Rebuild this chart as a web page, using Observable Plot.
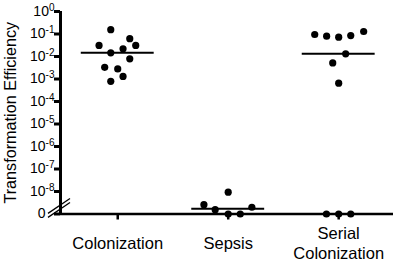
<!DOCTYPE html>
<html>
<head>
<meta charset="utf-8">
<script src="https://cdn.jsdelivr.net/npm/d3@7"></script>
<script src="https://cdn.jsdelivr.net/npm/@observablehq/plot@0.6"></script>
<style>
  html, body { margin: 0; padding: 0; background: #fff; }
  svg { display: block; }
</style>
</head>
<body>
<div id="chart"></div>
<script>
// ---- Data ----
const categories = ["Colonization", "Sepsis", "Serial\nColonization"];

const colonizationValues  = [0.155, 0.062, 0.031, 0.031, 0.022, 0.0145, 0.0079, 0.0033, 0.0028, 0.0013, 0.00079];
const colonizationOffsets = [-0.063, 0.109, -0.169, 0.163, 0.048, -0.063, 0.109, -0.118, 0, 0.048, -0.063];

const sepsisValues  = [9.3e-9, 2.6e-9, 1.55e-9, 2.0e-9, 0, 0];
const sepsisOffsets = [0, -0.22, -0.118, 0.214, 0, 0.109];

const serialValues  = [0.095, 0.080, 0.072, 0.085, 0.129, 0.0132, 0.0052, 0.00065, 0, 0, 0];
const serialOffsets = [-0.217, -0.109, 0, 0.109, 0.226, 0.063, -0.054, 0, -0.111, 0, 0.109];

const medianValues = [0.0145, 1.7e-9, 0.0132];

const yTickValues = [1, 1e-1, 1e-2, 1e-3, 1e-4, 1e-5, 1e-6, 1e-7, 1e-8, 0];
const yTickLabels = ["10|0", "10|-1", "10|-2", "10|-3", "10|-4", "10|-5", "10|-6", "10|-7", "10|-8", "0"];

const yTitle = "Transformation Efficiency";

// value at which "0" is drawn below the axis break
const zeroFloor = 1e-9;

// ---- Build tables ----
const groups = [
  [colonizationValues, colonizationOffsets],
  [sepsisValues, sepsisOffsets],
  [serialValues, serialOffsets]
];
const points = groups.flatMap(([vals, offs], i) =>
  vals.map((v, j) => ({cat: i, x: i + offs[j], v}))
);
const medians = medianValues.map((v, i) => ({cat: i, v}));
const plotY = v => (v === 0 ? zeroFloor : v);
const tickPos = yTickValues.map(plotY);
const labelFor = d => {
  const k = tickPos.findIndex(t => Math.abs(Math.log10(t) - Math.log10(d)) < 1e-6);
  return k >= 0 ? yTickLabels[k] : "";
};

const xDomain = [-0.518, 2.496];
const font = "'Liberation Sans', Arial, Helvetica, sans-serif";

const chart = Plot.plot({
  width: 397,
  height: 262,
  marginLeft: 60,
  marginRight: 4,
  marginTop: 11,
  marginBottom: 48.5,
  style: {fontFamily: font, fontSize: "14px", color: "#000", background: "#fff"},
  x: {type: "linear", domain: xDomain, axis: null},
  y: {type: "log", domain: [zeroFloor, 1], axis: null},
  marks: [
    // axis lines
    Plot.ruleY([zeroFloor], {stroke: "#000", strokeWidth: 2.5}),
    Plot.ruleX([xDomain[0]], {stroke: "#000", strokeWidth: 3}),
    // y axis ticks + labels
    Plot.axisY(tickPos, {
      anchor: "left",
      tickSize: 6,
      tickPadding: 0,
      strokeWidth: 3,
      stroke: "#000",
      fill: "#000",
      fontSize: 14,
      tickFormat: labelFor,
      label: null
    }),
    // x axis ticks
    Plot.axisX([0, 1, 2], {
      anchor: "bottom",
      tickSize: 6,
      strokeWidth: 2.5,
      stroke: "#000",
      tickFormat: () => "",
      label: null
    }),
    // category labels
    Plot.text(categories, {
      x: (d, i) => i,
      frameAnchor: "bottom",
      dy: 28.5,
      lineAnchor: "middle",
      lineHeight: 1.23,
      fontSize: 16.5,
      fill: "#000"
    }),
    // y title
    Plot.text([yTitle], {
      frameAnchor: "left",
      textAnchor: "middle",
      dx: -50,
      rotate: -90,
      fontSize: 16.2,
      fill: "#000"
    }),
    // medians
    Plot.ruleY(medians, {
      y: d => plotY(d.v),
      x1: d => d.cat - 0.33,
      x2: d => d.cat + 0.33,
      stroke: "#000",
      strokeWidth: 2
    }),
    // points
    Plot.dot(points, {
      x: "x",
      y: d => plotY(d.v),
      r: 3.6,
      fill: "#000",
      stroke: "none"
    })
  ]
});

// superscript tick labels
d3.select(chart).selectAll('g[aria-label="y-axis tick label"] text').each(function () {
  const t = d3.select(this);
  const s = t.text();
  if (s.includes("|")) {
    const [base, exp] = s.split("|");
    t.text("");
    t.append("tspan").text(base);
    t.append("tspan").attr("font-size", 10).attr("dy", -5.3).text(exp);
  } else if (s === "0") {
    t.attr("dx", -9);
  }
});

// axis break marks, positioned from the scales
const xs = chart.scale("x"), ys = chart.scale("y");
const cx = xs.apply(xDomain[0]);
const cy = (ys.apply(1e-8) + ys.apply(zeroFloor)) / 2 + 5;
const slope = 0.68;
const brk = d3.select(chart).append("g").attr("stroke", "#000").attr("stroke-width", 1.3);
[-2, 2].forEach(o => {
  brk.append("line")
    .attr("x1", cx - 12).attr("y1", cy + o + 12 * slope)
    .attr("x2", cx + 10).attr("y2", cy + o - 10 * slope);
});

document.getElementById("chart").appendChild(chart);
</script>
</body>
</html>
